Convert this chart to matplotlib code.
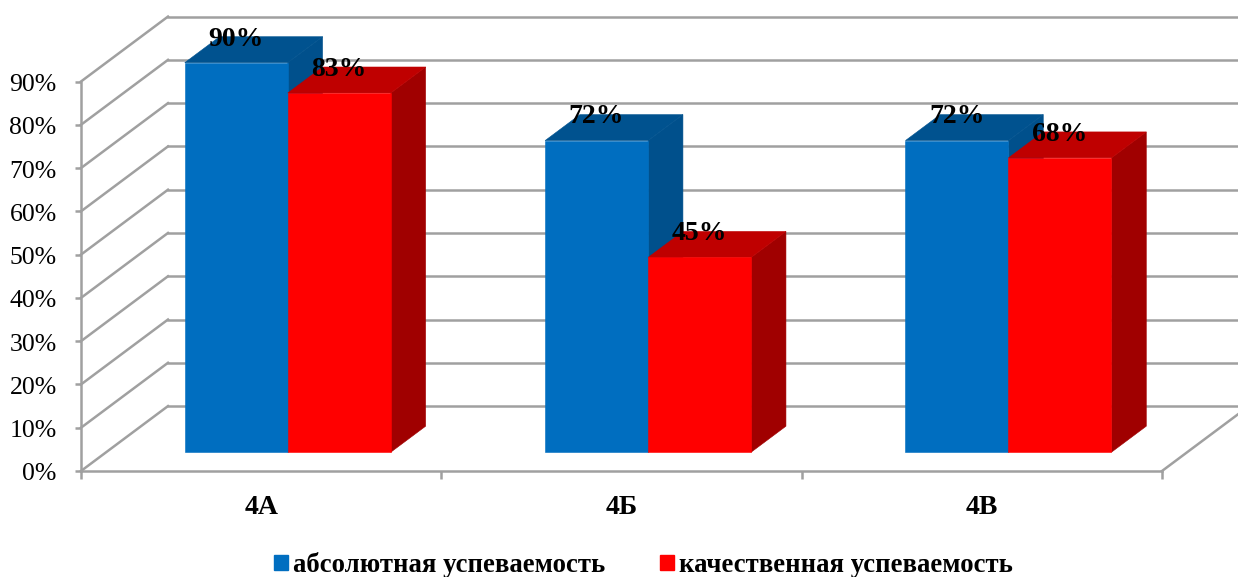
import matplotlib
matplotlib.use('Agg')
import matplotlib.pyplot as plt
from matplotlib.patches import Polygon, Patch
from matplotlib.transforms import ScaledTranslation

plt.rcParams['font.family'] = ['Liberation Serif', 'DejaVu Serif']

# Chart data
categories = ['4А', '4Б', '4В']
series_names = ['абсолютная успеваемость', 'качественная успеваемость']
absolute = [90, 72, 72]
quality = [83, 45, 68]
y_ticks = [0, 10, 20, 30, 40, 50, 60, 70, 80, 90]

# Colours: front, top, side
blue = ('#006EC0', '#00528F', '#00508C')
red = ('#FF0000', '#BF0000', '#A00000')
grid_color = '#A0A0A0'

# Fake 3D: how far a point moves per unit of depth
depth_x = 0.2414
depth_y = 15.0
bar_z = (0.29, 0.69)
bar_start = 0.218
bar_width = 0.2859


def project(x, y, z):
    return (x + z * depth_x, y + z * depth_y)


def draw_bar(ax, x, value, colors):
    z0, z1 = bar_z
    x1 = x + bar_width
    front = [project(x, 0, z0), project(x1, 0, z0), project(x1, value, z0), project(x, value, z0)]
    top = [project(x, value, z0), project(x1, value, z0), project(x1, value, z1), project(x, value, z1)]
    side = [project(x1, 0, z0), project(x1, 0, z1), project(x1, value, z1), project(x1, value, z0)]
    for pts, col in [(side, colors[2]), (top, colors[1]), (front, colors[0])]:
        ax.add_patch(Polygon(pts, closed=True, facecolor=col, edgecolor=col, linewidth=0.4,
                             clip_on=False, zorder=3))


fig = plt.figure(figsize=(12.38, 5.77), dpi=100)
ax = fig.add_axes([81 / 1238, 1 - 471 / 577, (1162 - 81) / 1238, (471 - 81.5) / 577])
ax.set_xlim(0, 3)
ax.set_ylim(0, 90)
ax.patch.set_alpha(0)

# Back wall lines and the diagonals on the side wall
for t in y_ticks:
    bx, by = project(0, t, 1)
    ex, ey = project(3, t, 1)
    ax.plot([0, bx], [t, by], color=grid_color, lw=1.8, clip_on=False, zorder=1)
    ax.plot([bx, ex], [by, ey], color=grid_color, lw=1.8, clip_on=False, zorder=1)

# Right edge of the floor
fx, fy = project(3, 0, 1)
ax.plot([3, fx], [0, fy], color=grid_color, lw=1.8, clip_on=False, zorder=1)

# Bars
for i in range(len(categories)):
    x = i + bar_start
    draw_bar(ax, x, absolute[i], blue)
    draw_bar(ax, x + bar_width, quality[i], red)

# Value labels
for i in range(len(categories)):
    x = i + bar_start
    for xc, val in [(x + bar_width / 2, absolute[i]), (x + bar_width * 1.5, quality[i])]:
        ax.annotate(f'{val}%', project(xc, val, bar_z[0]), xytext=(0, 17), textcoords='offset points',
                    ha='center', va='center', fontsize=20, fontweight='bold', color='black',
                    annotation_clip=False, zorder=5)

# Axes
for s in ['top', 'right']:
    ax.spines[s].set_visible(False)
for s in ['left', 'bottom']:
    ax.spines[s].set_color(grid_color)
    ax.spines[s].set_linewidth(1.8)
    ax.spines[s].set_zorder(2)

ax.set_yticks(y_ticks)
ax.set_yticklabels([f'{t}%' for t in y_ticks], fontsize=18.5, color='black', va='center')
ax.tick_params(axis='y', length=4.5, width=1.8, color=grid_color, pad=13)
# tick labels sit a little below their ticks in the original
shift_down = ScaledTranslation(0, -2.5 / 72, fig.dpi_scale_trans)
for lab in ax.get_yticklabels():
    lab.set_transform(lab.get_transform() + shift_down)

ax.set_xticks(range(len(categories) + 1))
ax.set_xticklabels([])
ax.set_xticks([i + 0.5 for i in range(len(categories))], minor=True)
ax.set_xticklabels(categories, minor=True, fontsize=20, fontweight='bold')
ax.tick_params(axis='x', which='major', length=5.5, width=1.8, color=grid_color)
ax.tick_params(axis='x', which='minor', length=0, pad=17)

# Legend
handles = [Patch(color=blue[0]), Patch(color=red[0])]
fig.legend(handles, series_names, loc='center', bbox_to_anchor=(643.5 / 1238, 1 - 565 / 577), ncol=2,
           frameon=False, prop={'size': 19.3, 'weight': 'bold'},
           handlelength=0.52, handleheight=0.52, handletextpad=0.2, columnspacing=2.05,
           borderaxespad=0, borderpad=0)

fig.savefig('out.png', dpi=100)
